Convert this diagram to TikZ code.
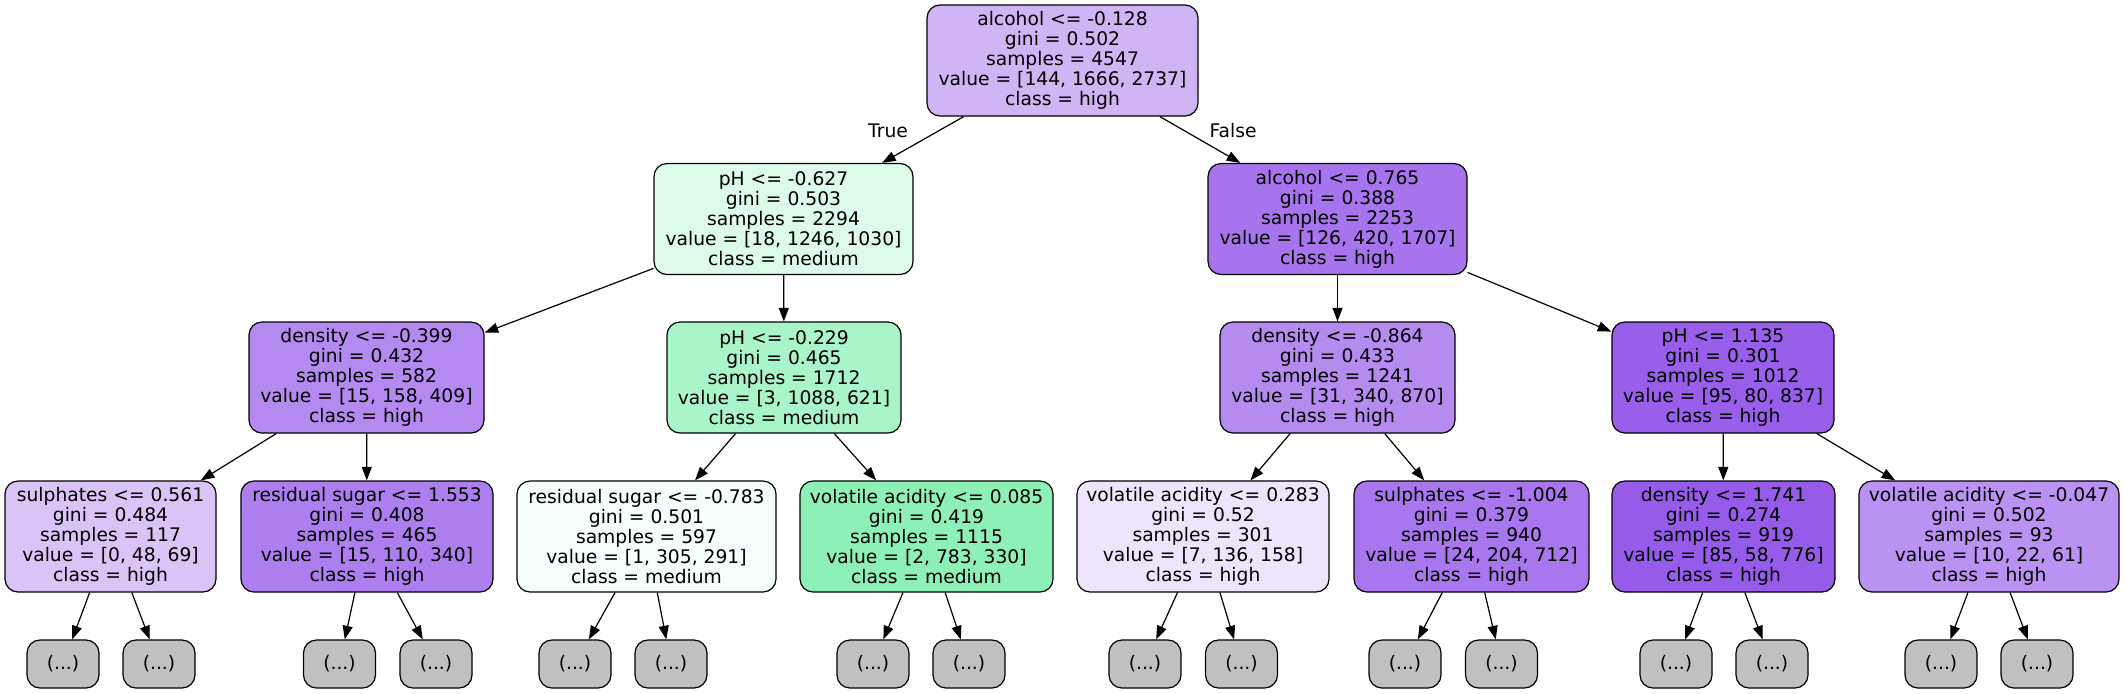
\documentclass[tikz,border=0pt]{standalone}
\usepackage{fontspec}
\setmainfont{DejaVu Sans}
\usetikzlibrary{arrows.meta}
\definecolor{cRoot}{RGB}{208,181,245}
\definecolor{cA}{RGB}{221,251,233}
\definecolor{cB}{RGB}{167,116,237}
\definecolor{cC}{RGB}{180,138,240}
\definecolor{cD}{RGB}{170,244,201}
\definecolor{cE}{RGB}{181,139,240}
\definecolor{cF}{RGB}{153,95,234}
\definecolor{cG}{RGB}{217,195,247}
\definecolor{cH}{RGB}{173,127,238}
\definecolor{cI}{RGB}{246,254,249}
\definecolor{cJ}{RGB}{141,240,182}
\definecolor{cK}{RGB}{238,229,252}
\definecolor{cL}{RGB}{168,118,237}
\definecolor{cM}{RGB}{151,91,233}
\definecolor{cN}{RGB}{186,146,241}
\definecolor{cLeaf}{RGB}{192,192,192}
\tikzset{
  tn/.style={draw=black, line width=0.6pt, rounded corners=6.5pt, inner sep=0pt,
    minimum height=55.5pt, align=center,
    font=\fontsize{9.35pt}{10pt}\selectfont},
  leafbox/.style={tn, fill=cLeaf, minimum width=36pt, minimum height=24pt},
  edge/.style={draw=black, line width=0.6pt, -{Triangle[length=6.8pt,width=5pt]}},
  elabel/.style={font=\fontsize{9.35pt}{10pt}\selectfont, anchor=base}
}
\begin{document}
\begin{tikzpicture}[x=0.5pt,y=-0.5pt]
\useasboundingbox (0,0) rectangle (2125,693);
% level 0
\node[tn, fill=cRoot, minimum width=135.5pt] (root) at (1062.5,60.5)
  {alcohol <= -0.128\\gini = 0.502\\samples = 4547\\value = [144, 1666, 2737]\\class = high};
% level 1
\node[tn, fill=cA, minimum width=129.5pt] (n1) at (783.5,219)
  {pH <= -0.627\\gini = 0.503\\samples = 2294\\value = [18, 1246, 1030]\\class = medium};
\node[tn, fill=cB, minimum width=129.5pt] (n2) at (1337.5,219)
  {alcohol <= 0.765\\gini = 0.388\\samples = 2253\\value = [126, 420, 1707]\\class = high};
% level 2
\node[tn, fill=cC, minimum width=117.5pt] (n3) at (366.5,377.5)
  {density <= -0.399\\gini = 0.432\\samples = 582\\value = [15, 158, 409]\\class = high};
\node[tn, fill=cD, minimum width=117pt] (n4) at (784,377.5)
  {pH <= -0.229\\gini = 0.465\\samples = 1712\\value = [3, 1088, 621]\\class = medium};
\node[tn, fill=cE, minimum width=117.5pt] (n5) at (1337.5,377.5)
  {density <= -0.864\\gini = 0.433\\samples = 1241\\value = [31, 340, 870]\\class = high};
\node[tn, fill=cF, minimum width=111pt] (n6) at (1723,377.5)
  {pH <= 1.135\\gini = 0.301\\samples = 1012\\value = [95, 80, 837]\\class = high};
% level 3
\node[tn, fill=cG, minimum width=105.5pt] (n7) at (110.5,536.5)
  {sulphates <= 0.561\\gini = 0.484\\samples = 117\\value = [0, 48, 69]\\class = high};
\node[tn, fill=cH, minimum width=126pt] (n8) at (367,536.5)
  {residual sugar <= 1.553\\gini = 0.408\\samples = 465\\value = [15, 110, 340]\\class = high};
\node[tn, fill=cI, minimum width=129.5pt] (n9) at (646.5,536.5)
  {residual sugar <= -0.783\\gini = 0.501\\samples = 597\\value = [1, 305, 291]\\class = medium};
\node[tn, fill=cJ, minimum width=126.5pt] (n10) at (926.5,536.5)
  {volatile acidity <= 0.085\\gini = 0.419\\samples = 1115\\value = [2, 783, 330]\\class = medium};
\node[tn, fill=cK, minimum width=126pt] (n11) at (1203,536.5)
  {volatile acidity <= 0.283\\gini = 0.52\\samples = 301\\value = [7, 136, 158]\\class = high};
\node[tn, fill=cL, minimum width=117.5pt] (n12) at (1471.5,536.5)
  {sulphates <= -1.004\\gini = 0.379\\samples = 940\\value = [24, 204, 712]\\class = high};
\node[tn, fill=cM, minimum width=111.5pt] (n13) at (1723.5,536.5)
  {density <= 1.741\\gini = 0.274\\samples = 919\\value = [85, 58, 776]\\class = high};
\node[tn, fill=cN, minimum width=130pt] (n14) at (1989,536.5)
  {volatile acidity <= -0.047\\gini = 0.502\\samples = 93\\value = [10, 22, 61]\\class = high};
% leaves
\node[leafbox] (l1) at (63,664) {(...)};
\node[leafbox] (l2) at (159,664) {(...)};
\node[leafbox] (l3) at (339.5,664) {(...)};
\node[leafbox] (l4) at (436,664) {(...)};
\node[leafbox] (l5) at (575,664) {(...)};
\node[leafbox] (l6) at (671,664) {(...)};
\node[leafbox] (l7) at (873,664) {(...)};
\node[leafbox] (l8) at (969,664) {(...)};
\node[leafbox] (l9) at (1145,664) {(...)};
\node[leafbox] (l10) at (1241.5,664) {(...)};
\node[leafbox] (l11) at (1405,664) {(...)};
\node[leafbox] (l12) at (1501.5,664) {(...)};
\node[leafbox] (l13) at (1676,664) {(...)};
\node[leafbox] (l14) at (1772,664) {(...)};
\node[leafbox] (l15) at (1941,664) {(...)};
\node[leafbox] (l16) at (2037,664) {(...)};
% edges
\draw[edge] (root) -- (n1);
\draw[edge] (root) -- (n2);
\draw[edge] (n1) -- (n3);
\draw[edge] (n1) -- (n4);
\draw[edge] (n2) -- (n5);
\draw[edge] (n2) -- (n6);
\draw[edge] (n3) -- (n7);
\draw[edge] (n3) -- (n8);
\draw[edge] (n4) -- (n9);
\draw[edge] (n4) -- (n10);
\draw[edge] (n5) -- (n11);
\draw[edge] (n5) -- (n12);
\draw[edge] (n6) -- (n13);
\draw[edge] (n6) -- (n14);
\draw[edge] (n7) -- (l1);
\draw[edge] (n7) -- (l2);
\draw[edge] (n8) -- (l3);
\draw[edge] (n8) -- (l4);
\draw[edge] (n9) -- (l5);
\draw[edge] (n9) -- (l6);
\draw[edge] (n10) -- (l7);
\draw[edge] (n10) -- (l8);
\draw[edge] (n11) -- (l9);
\draw[edge] (n11) -- (l10);
\draw[edge] (n12) -- (l11);
\draw[edge] (n12) -- (l12);
\draw[edge] (n13) -- (l13);
\draw[edge] (n13) -- (l14);
\draw[edge] (n14) -- (l15);
\draw[edge] (n14) -- (l16);
% edge labels
\node[elabel] (tlab) at (888,137) {True};
\node[elabel] (flab) at (1233,137) {False};
\end{tikzpicture}
\end{document}
